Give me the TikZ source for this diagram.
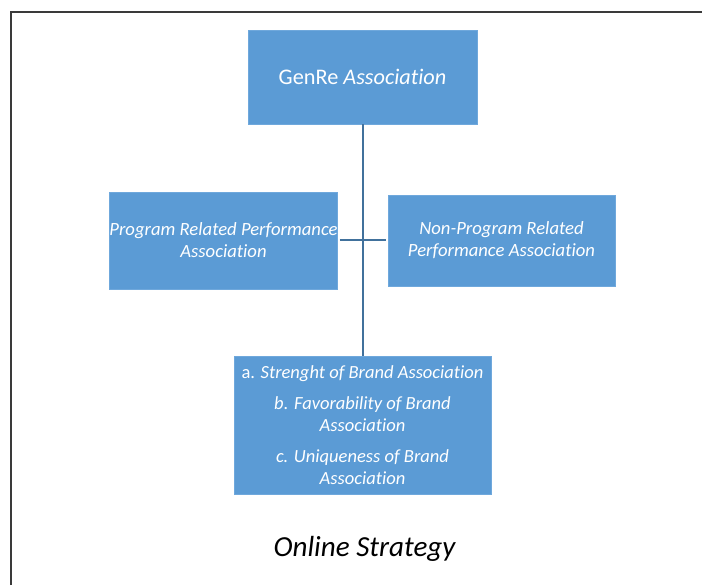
\documentclass[tikz,border=0pt]{standalone}
\usepackage{fontspec}
\setmainfont{Carlito}[Ligatures=NoCommon]
\definecolor{boxblue}{HTML}{5B9BD5}
\definecolor{boxedge}{HTML}{6FA8DC}
\definecolor{linkblue}{HTML}{41719C}
\definecolor{framegray}{HTML}{3A3A3A}
\begin{document}
\begin{tikzpicture}[x=0.75pt,y=-0.75pt,
  bluebox/.style={fill=boxblue,draw=boxedge,line width=0.6pt,text=white,align=center,inner sep=0pt},
  link/.style={draw=linkblue,line width=1.5pt}]
\useasboundingbox (0,0) rectangle (702,585);
\draw[framegray,line width=1.2pt] (11,585) -- (11,12) -- (702,12);
\node[bluebox,minimum width=229*0.75pt,minimum height=94*0.75pt] (top) at (362.5,77)
  {\fontsize{16.7}{19}\selectfont GenRe \textit{Association}};
\node[bluebox,minimum width=227*0.75pt,minimum height=97*0.75pt,font=\fontsize{14}{16.5}\selectfont\itshape] (left) at (223.5,240.5)
  {Program Related Performance\\Association};
\node[bluebox,minimum width=227*0.75pt,minimum height=91*0.75pt,font=\fontsize{14}{16.5}\selectfont\itshape] (right) at (501.5,240.5)
  {Non-Program Related\\Performance Association};
\node[bluebox,minimum width=257*0.75pt,minimum height=138*0.75pt,font=\fontsize{13.9}{16.5}\selectfont] (bottom) at (362.5,425)
  {a. \textit{Strenght of Brand Association}\\[6.5pt]
   \textit{b. Favorability of Brand}\\\textit{Association}\\[6.5pt]
   \textit{c. Uniqueness of Brand}\\\textit{Association}};
\node[font=\fontsize{21.8}{26}\selectfont\itshape] (cap) at (364.5,549) {Online Strategy};
\draw[link] (top.south) -- (bottom.north);
\coordinate (hl) at (339.5,240);
\coordinate (hr) at (386,240);
\draw[link] (hl) -- (hr);
\end{tikzpicture}
\end{document}
